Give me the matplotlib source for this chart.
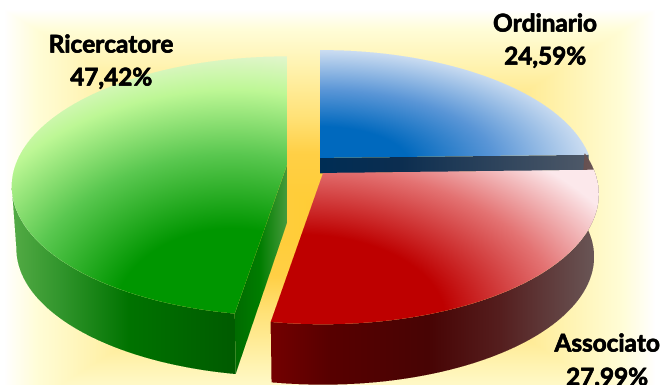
import numpy as np
import matplotlib
matplotlib.use("Agg")
import matplotlib.pyplot as plt
from matplotlib.path import Path
import matplotlib.patheffects as pe

# Share of each academic role, in percent
categories = ["Ordinario", "Associato", "Ricercatore"]
values = [24.59, 27.99, 47.42]
value_labels = ["24,59%", "27,99%", "47,42%"]

plt.rcParams["font.family"] = ["Lato", "DejaVu Sans"]

W, H = 660, 385
fig = plt.figure(figsize=(W / 100, H / 100), dpi=100)
ax = fig.add_axes([0, 0, 1, 1])
ax.set_xlim(0, W)
ax.set_ylim(H, 0)
ax.axis("off")

xx, yy = np.meshgrid(np.arange(W) + 0.5, np.arange(H) + 0.5)

# Perspective of the tilted disc: half-width, half-depth, foreshortening
RX, RY, K = 270.0, 125.6, 0.163
DEPTH = 63.0
BOTTOM_SCALE = 0.983
SS = 3
# Angle at which the disc outline turns away from the viewer
SILHOUETTE = np.degrees(np.arccos(K))


def project(phi, apex, scale=1.0, drop=0.0):
    """Map clockwise angles from 12 o'clock (degrees) onto the tilted disc."""
    p = np.radians(phi)
    u, v = np.sin(p), -np.cos(p)
    w = 1 - K * v
    return apex[0] + scale * RX * u / w, apex[1] + scale * RY * v / w + drop


def ramp(t, stops, colours):
    c = np.array(colours, float) / 255
    return np.dstack([np.interp(t, stops, c[:, i]) for i in range(3)])


def coverage(vertices):
    """Anti-aliased pixel coverage of a closed outline."""
    path = Path(np.vstack([vertices, vertices[0]]), closed=True)
    sub = (np.arange(SS) + 0.5) / SS
    x0, y0 = np.floor(vertices.min(axis=0)).astype(int)
    x1, y1 = np.ceil(vertices.max(axis=0)).astype(int)
    x0, y0 = max(x0, 0), max(y0, 0)
    x1, y1 = min(x1, W), min(y1, H)
    sx = (np.arange(x0, x1)[:, None] + sub).ravel()
    sy = (np.arange(y0, y1)[:, None] + sub).ravel()
    gx, gy = np.meshgrid(sx, sy)
    inside = path.contains_points(np.column_stack([gx.ravel(), gy.ravel()]))
    inside = inside.reshape(gx.shape).astype(float)
    cov = inside.reshape(y1 - y0, SS, x1 - x0, SS).mean(axis=(1, 3))
    alpha = np.zeros((H, W))
    alpha[y0:y1, x0:x1] = cov
    return alpha


def paint(vertices, rgb, zorder):
    """Fill a closed outline with a per-pixel colour field."""
    rgba = np.dstack([rgb, coverage(np.asarray(vertices, float))])
    ax.imshow(rgba, extent=(0, W, H, 0), aspect="auto", zorder=zorder,
              interpolation="nearest")


def arc(a0, a1, apex, scale=1.0, drop=0.0):
    phi = np.linspace(a0, a1, 240)
    return np.column_stack(project(phi, apex, scale, drop))


def top_outline(a0, a1, apex, scale):
    return np.vstack([[apex], arc(a0, a1, apex, scale)])


def wall_outline(a0, a1, apex, scale):
    return np.vstack([arc(a0, a1, apex, scale),
                      arc(a0, a1, apex, scale * BOTTOM_SCALE, DEPTH)[::-1]])


def radial(cx, cy, a, b):
    return np.hypot((xx - cx) / a, (yy - cy) / b)


# Golden glow behind the pie, a rectangular path gradient
glow = np.maximum(np.abs(xx - 330) / 325, np.abs(yy - 215) / 205)
bg = ramp(glow, [0, 0.3, 0.48, 0.72, 0.9, 1.0],
          [(255, 204, 51), (255, 208, 70), (255, 226, 120), (255, 243, 175),
           (255, 253, 215), (255, 255, 255)])
ax.imshow(bg, extent=(0, W, H, 0), aspect="auto", zorder=0, interpolation="nearest")

# Slice angles follow the values, clockwise from 12 o'clock
edges = np.concatenate([[0], np.cumsum(values)]) * 3.6
a_blue, a_red, a_green = edges[:2], edges[1:3], edges[2:4]

apex_blue = (320.0, 158.0)
apex_red = (323.0, 173.0)
apex_green = (287.0, 165.0)
scale_red = 1.008
scale_green = 1.006

# Ordinario: inner wall shows only as a narrow band above the next slice
bx0, by0 = apex_blue
bx1, by1 = project(a_blue[1], apex_blue)
blue_wall = np.array([[bx0, by0], [bx1, by1], [bx1, by1 + 15.5], [bx0, by0 + 15.5]])
paint(blue_wall, ramp(xx, [320, 400, 590], [(0, 45, 85), (12, 46, 80), (80, 90, 105)]), 2)
paint(top_outline(*a_blue, apex_blue, 1.0),
      ramp(radial(320, 165, 270, 115), [0, 0.33, 0.65, 1.0],
           [(0, 105, 190), (0, 105, 190), (90, 150, 215), (205, 222, 242)]), 3)

# Ricercatore: outer wall, inner cut face and top
gx, gy = project(a_green[0], apex_green, scale_green)
gxb, gyb = project(a_green[0], apex_green, scale_green * BOTTOM_SCALE, DEPTH)
paint(wall_outline(a_green[0], 180 + SILHOUETTE, apex_green, scale_green),
      ramp(xx, [11, 60, 130, 231], [(85, 172, 70), (50, 150, 45), (0, 115, 0), (0, 92, 0)]), 4)
paint(np.array([apex_green, (gx, gy), (gxb, gyb), (apex_green[0], apex_green[1] + 58)]),
      ramp(xx, [231, 260, 287], [(0, 105, 0), (0, 125, 0), (70, 155, 60)]), 5)
paint(top_outline(*a_green, apex_green, scale_green),
      ramp(radial(232, 322, 330, 258), [0, 0.36, 0.65, 0.9, 1.05],
           [(0, 150, 0), (0, 150, 0), (90, 200, 80), (190, 248, 150), (228, 246, 208)]), 6)

# Associato: outer wall and top
paint(wall_outline(SILHOUETTE, a_red[1], apex_red, scale_red),
      ramp(xx, [273, 330, 430, 500, 592],
           [(115, 0, 0), (88, 0, 0), (72, 5, 5), (85, 30, 30), (105, 85, 85)]), 7)
paint(top_outline(*a_red, apex_red, scale_red),
      ramp(radial(300, 320, 145, 85), [0, 1.0, 1.8, 2.45],
           [(190, 0, 0), (190, 0, 0), (228, 115, 115), (252, 232, 235)]), 8)

# Slice labels: name above value
label_at = {"Ordinario": (545, 24, 57), "Associato": (607, 344, 378), "Ricercatore": (111, 45, 78)}
thicken = [pe.withStroke(linewidth=0.5, foreground="black")]
for name, text in zip(categories, value_labels):
    x, y_name, y_value = label_at[name]
    ax.text(x, y_name, name, ha="center", va="center", fontsize=17.5,
            fontweight="bold", color="black", zorder=10, path_effects=thicken)
    ax.text(x, y_value, text, ha="center", va="center", fontsize=17.5,
            fontweight="bold", color="black", zorder=10, path_effects=thicken)

fig.savefig("out.png", dpi=100)
